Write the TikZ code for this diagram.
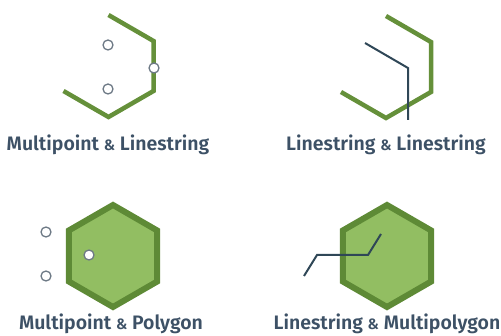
\documentclass[tikz,border=0pt]{standalone}
\usepackage{fontspec}
\setmainfont{Fira Sans}[BoldFont={Fira Sans SemiBold}]
\definecolor{olive}{HTML}{65903A}
\definecolor{polyfill}{HTML}{92BE62}
\definecolor{polyedge}{HTML}{5E8A36}
\definecolor{slate}{HTML}{2F4757}
\definecolor{ptedge}{HTML}{6E7A86}
\definecolor{labeltext}{HTML}{3D5166}
\newcommand{\andsign}{{\fontsize{15}{17}\selectfont\&}}
\begin{document}
\begin{tikzpicture}[x=1pt,y=-1pt,
  greenline/.style={draw=olive,line width=4.5pt,line join=miter},
  darkline/.style={draw=slate,line width=2pt,line join=miter},
  polyshape/.style={draw=polyedge,fill=polyfill,line width=6pt,line join=miter},
  pt/.style={draw=ptedge,fill=white,line width=1.3pt},
  caption/.style={text=labeltext,font=\bfseries\fontsize{19.5}{22}\selectfont,inner sep=0pt,anchor=base}]
\useasboundingbox (0,0) rectangle (501,336);

% --- Multipoint & Linestring
\draw[greenline] (108.5,15) -- (153.5,41) -- (153.5,91) -- (108.5,117) -- (63.5,91);
\foreach \p in {(108,45),(154,68),(108,89)}
  \draw[pt] \p circle[radius=5];
\node[caption] (l1) at (108,151) {Multipoint \andsign{} Linestring};

% --- Linestring & Linestring
\draw[greenline] (386,16) -- (431,42) -- (431,92) -- (386,118) -- (341,92);
\coordinate (s1) at (365,43);
\coordinate (s2) at (408,68);
\coordinate (s3) at (408,120);
\draw[darkline] (s1) -- (s2) -- (s3);
\node[caption] (l2) at (386,151) {Linestring \andsign{} Linestring};

% --- Multipoint & Polygon
\draw[polyshape] (113,205) -- (157.2,230.5) -- (157.2,281.5) -- (113,307) -- (68.8,281.5) -- (68.8,230.5) -- cycle;
\draw[pt] (46,232) circle[radius=5];
\draw[pt] (46,276) circle[radius=5];
\draw[pt] (89,255) circle[radius=5];
\node[caption] (l3) at (111,330) {Multipoint \andsign{} Polygon};

% --- Linestring & Multipolygon
\draw[polyshape] (387,205) -- (431.2,230.5) -- (431.2,281.5) -- (387,307) -- (342.8,281.5) -- (342.8,230.5) -- cycle;
\coordinate (m1) at (304,276);
\coordinate (m2) at (317,255);
\coordinate (m3) at (368,255);
\coordinate (m4) at (381,234);
\draw[darkline] (m1) -- (m2) -- (m3) -- (m4);
\node[caption] (l4) at (387,330) {Linestring \andsign{} Multipolygon};
\end{tikzpicture}
\end{document}
